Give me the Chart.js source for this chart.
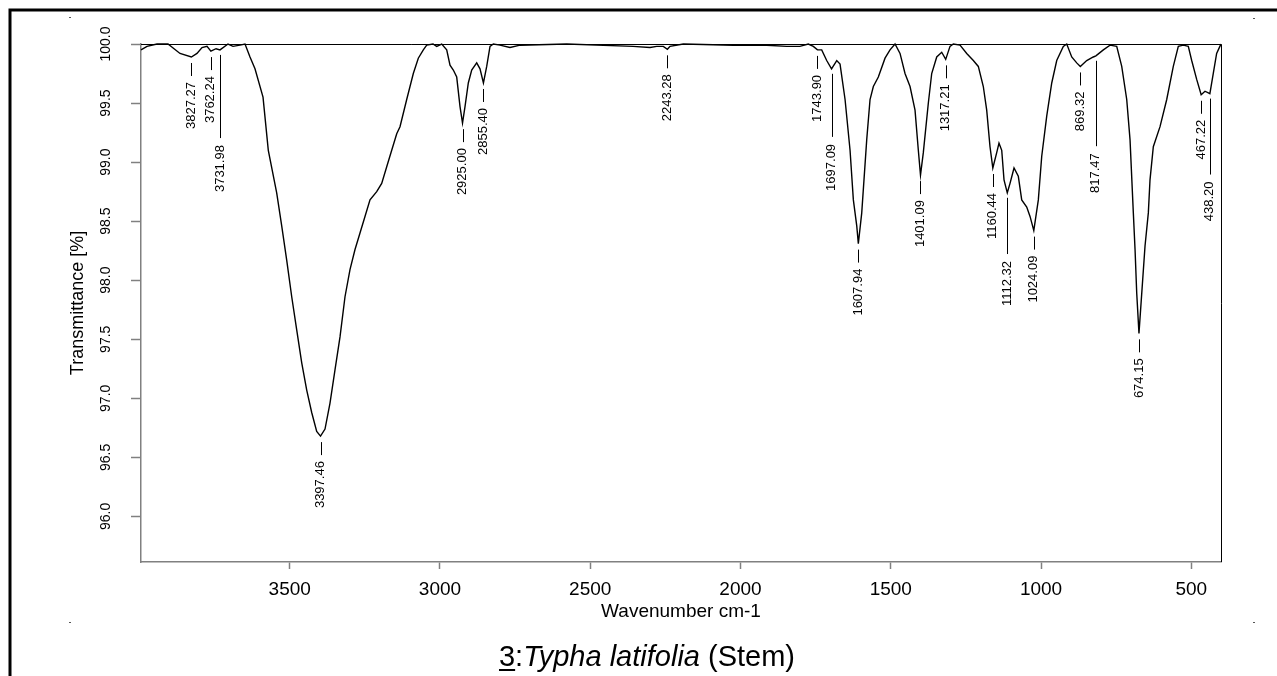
<!DOCTYPE html>
<html>
<head>
<meta charset="utf-8">
<script src="https://cdn.jsdelivr.net/npm/chart.js@4.4.1/dist/chart.umd.min.js"></script>
<style>
html,body{margin:0;padding:0;background:#fff;overflow:hidden}
canvas{display:block}
</style>
</head>
<body>
<canvas id="c" width="1277" height="676"></canvas>
<script>
// ---- data ----
const wavenumbers = [
  3994.8, 3974.8, 3941.6, 3905.0, 3865.0, 3827.27, 3808.5, 3791.8, 3775.2, 3762.24,
  3745.0, 3731.98, 3705.3, 3688.7, 3665.4, 3648.7, 3632.1, 3615.5, 3588.8, 3571.2,
  3543.3, 3526.6, 3510.0, 3493.3, 3476.7, 3460.0, 3443.4, 3426.8, 3410.2, 3397.46,
  3382.5, 3365.9, 3349.3, 3332.6, 3316.0, 3299.4, 3282.7, 3266.1, 3249.5, 3232.8,
  3210.5, 3193.9, 3177.2, 3160.6, 3143.9, 3133.0, 3110.7, 3088.7, 3072.1, 3055.4,
  3044.1, 3023.2, 3010.9, 2994.2, 2977.6, 2966.6, 2955.6, 2944.3, 2933.3, 2925.00,
  2916.7, 2905.7, 2894.4, 2877.8, 2866.8, 2855.40, 2844.5, 2833.5, 2822.5, 2800.3,
  2767.0, 2733.7, 2578.3, 2357.7, 2301.1, 2278.8, 2256.8, 2243.28, 2234.6, 2190.3,
  2025.0, 1912.8, 1846.3, 1802.5, 1774.4, 1757.7, 1743.90, 1729.8, 1713.2, 1697.09,
  1679.8, 1668.8, 1652.1, 1635.5, 1624.5, 1613.2, 1607.94, 1596.6, 1580.0, 1569.0,
  1558.0, 1541.4, 1519.1, 1502.5, 1485.8, 1469.2, 1452.6, 1435.9, 1419.3, 1408.3,
  1401.09, 1391.7, 1375.0, 1363.8, 1347.1, 1330.5, 1317.21, 1302.9, 1291.9, 1269.6,
  1247.3, 1225.3, 1208.7, 1192.1, 1180.8, 1169.8, 1160.44, 1147.5, 1139.9, 1130.8,
  1123.2, 1112.32, 1103.2, 1089.9, 1075.6, 1064.3, 1047.6, 1036.6, 1024.09, 1009.0,
  997.7, 981.1, 964.4, 947.8, 925.9, 914.5, 897.9, 881.3, 869.32, 848.0,
  826.1, 817.47, 792.7, 770.5, 748.2, 731.5, 714.9, 703.9, 692.9, 687.2,
  681.6, 674.15, 654.0, 643.0, 637.4, 626.4, 604.1, 581.8, 559.9, 543.2,
  526.6, 510.0, 498.7, 482.1, 467.22, 454.4, 438.20, 427.0, 415.7, 404.9,
  401.2
];
const transmittance = [
  99.95, 99.98, 100.0, 100.0, 99.92, 99.89, 99.92, 99.97, 99.98, 99.94,
  99.96, 99.95, 100.0, 99.98, 99.99, 100.0, 99.89, 99.79, 99.55, 99.10,
  98.74, 98.46, 98.17, 97.86, 97.58, 97.30, 97.07, 96.88, 96.72, 96.68,
  96.74, 96.96, 97.24, 97.52, 97.86, 98.09, 98.26, 98.40, 98.54, 98.68,
  98.75, 98.82, 98.96, 99.10, 99.24, 99.30, 99.53, 99.75, 99.88, 99.95,
  99.99, 100.0, 99.98, 100.0, 99.95, 99.82, 99.78, 99.72, 99.47, 99.33,
  99.47, 99.67, 99.78, 99.84, 99.79, 99.67, 99.81, 99.98, 100.0, 99.99,
  99.97, 99.99, 100.0, 99.98, 99.97, 99.98, 99.98, 99.955, 99.98, 100.0,
  99.99, 99.99, 99.98, 99.98, 100.0, 99.98, 99.95, 99.95, 99.86, 99.79,
  99.86, 99.83, 99.53, 99.10, 98.68, 98.46, 98.31, 98.57, 99.19, 99.53,
  99.64, 99.72, 99.88, 99.95, 100.0, 99.92, 99.75, 99.64, 99.44, 99.10,
  98.89, 99.08, 99.50, 99.75, 99.89, 99.93, 99.87, 99.98, 100.0, 99.99,
  99.92, 99.86, 99.81, 99.64, 99.44, 99.13, 98.95, 99.08, 99.16, 99.10,
  98.85, 98.74, 98.82, 98.95, 98.88, 98.68, 98.62, 98.54, 98.42, 98.68,
  99.05, 99.39, 99.67, 99.86, 99.98, 100.0, 99.89, 99.84, 99.81, 99.86,
  99.89, 99.90, 99.95, 99.99, 99.98, 99.81, 99.53, 99.19, 98.57, 98.26,
  97.89, 97.55, 98.29, 98.57, 98.85, 99.13, 99.30, 99.53, 99.81, 99.98,
  99.99, 99.98, 99.86, 99.70, 99.57, 99.60, 99.58, 99.75, 99.92, 99.98,
  100.0
];
const peakWavenumbers = [
  3827.27, 3762.24, 3731.98, 3397.46, 2925.00, 2855.40, 2243.28, 1743.90, 1697.09, 1607.94,
  1401.09, 1317.21, 1160.44, 1112.32, 1024.09, 869.32, 817.47, 674.15, 467.22, 438.20
];
const xTickValues = [3500, 3000, 2500, 2000, 1500, 1000, 500];
const yTickValues = [96.0, 96.5, 97.0, 97.5, 98.0, 98.5, 99.0, 99.5, 100.0];
const xLimits = [401.2, 3994.8];
const yLimits = [95.614, 100.0];
const xAxisTitle = 'Wavenumber cm-1';
const yAxisTitle = 'Transmittance [%]';
const titleNumber = '3';
const titleSpecies = 'Typha latifolia';
const titlePart = ' (Stem)';

// ---- drawing ----
const FAM = '"Liberation Sans", Arial, Helvetica, sans-serif';
Chart.defaults.font.family = FAM;

function valueAt(w) {
  for (let i = 0; i < wavenumbers.length - 1; i++) {
    const a = wavenumbers[i], b = wavenumbers[i + 1];
    if (w <= a && w >= b) {
      const f = (a - w) / (a - b);
      return transmittance[i] + f * (transmittance[i + 1] - transmittance[i]);
    }
  }
  return 100;
}

const peakLabelPlugin = {
  id: 'peakLabels',
  afterDatasetsDraw(chart) {
    const { ctx } = chart;
    const x = chart.scales.x, y = chart.scales.y;
    ctx.save();
    ctx.font = '13px ' + FAM;
    ctx.fillStyle = '#000';
    ctx.strokeStyle = '#000';
    ctx.lineWidth = 1;
    let prev = null;
    peakWavenumbers.forEach(w => {
      const t = valueAt(w);
      const px = x.getPixelForValue(w);
      const py = y.getPixelForValue(t);
      const label = w.toFixed(2);
      const len = ctx.measureText(label).width;
      let lineStart = py + 6, lineEnd = py + 19, textTop = py + 25;
      if (prev && Math.abs(px - prev.px) < 17) {
        textTop = Math.max(textTop, prev.bottom + 22);
        lineStart = py + 5;
        lineEnd = textTop - 7;
      }
      const sx = Math.round(px) + 0.5;
      ctx.beginPath();
      ctx.moveTo(sx, lineStart);
      ctx.lineTo(sx, lineEnd);
      ctx.stroke();
      ctx.save();
      ctx.translate(px, textTop + len);
      ctx.rotate(-Math.PI / 2);
      ctx.textAlign = 'left';
      ctx.textBaseline = 'middle';
      ctx.fillText(label, 0, 0);
      ctx.restore();
      prev = { px, bottom: textTop + len };
    });
    ctx.restore();
  }
};

const framePlugin = {
  id: 'frame',
  afterDraw(chart) {
    const { ctx, chartArea: a } = chart;
    ctx.save();
    // plot box top/right
    ctx.strokeStyle = '#000';
    ctx.lineWidth = 1;
    ctx.beginPath();
    ctx.moveTo(a.left, Math.round(a.top) + 0.5);
    ctx.lineTo(Math.round(a.right) + 0.5, Math.round(a.top) + 0.5);
    ctx.lineTo(Math.round(a.right) + 0.5, a.bottom);
    ctx.stroke();
    // outer frame
    ctx.lineWidth = 3;
    ctx.beginPath();
    ctx.moveTo(10, 676);
    ctx.lineTo(10, 10);
    ctx.lineTo(1277, 10);
    ctx.stroke();
    // corner marks
    ctx.fillStyle = '#555';
    [[69, 17], [1253, 18], [69, 622], [1253, 622]].forEach(p => ctx.fillRect(p[0], p[1], 2, 1));
    // title
    const reg = '29px ' + FAM, ita = 'italic 29px ' + FAM;
    ctx.font = reg;
    const w1 = ctx.measureText(titleNumber).width;
    const w2 = ctx.measureText(':').width;
    const w4 = ctx.measureText(titlePart).width;
    ctx.font = ita;
    const w3 = ctx.measureText(titleSpecies).width;
    const total = w1 + w2 + w3 + w4;
    let tx = 647 - total / 2;
    const ty = 666;
    ctx.fillStyle = '#000';
    ctx.textAlign = 'left';
    ctx.textBaseline = 'alphabetic';
    ctx.font = reg;
    ctx.fillText(titleNumber, tx, ty);
    ctx.fillRect(tx, ty + 3, w1, 2);
    tx += w1;
    ctx.fillText(':', tx, ty);
    tx += w2;
    ctx.font = ita;
    ctx.fillText(titleSpecies, tx, ty);
    tx += w3;
    ctx.font = reg;
    ctx.fillText(titlePart, tx, ty);
    ctx.restore();
  }
};

new Chart(document.getElementById('c'), {
  type: 'line',
  data: {
    datasets: [{
      data: wavenumbers.map((w, i) => ({ x: w, y: transmittance[i] })),
      borderColor: '#000',
      borderWidth: 1.4,
      pointRadius: 0,
      tension: 0,
      fill: false,
      clip: false
    }]
  },
  options: {
    responsive: false,
    animation: false,
    devicePixelRatio: 1,
    layout: { padding: { left: 0, right: 56, top: 44, bottom: 53 } },
    plugins: { legend: { display: false }, tooltip: { enabled: false }, title: { display: false } },
    scales: {
      x: {
        type: 'linear',
        reverse: true,
        min: xLimits[0],
        max: xLimits[1],
        afterBuildTicks: s => { s.ticks = xTickValues.map(v => ({ value: v })); },
        afterFit: s => { s.height = 61; },
        grid: { drawOnChartArea: false, drawTicks: true, tickLength: 7, tickColor: '#808080', tickWidth: 1.5 },
        border: { display: true, color: '#808080', width: 1.5 },
        ticks: { padding: 9, color: '#000', font: { size: 19 }, maxRotation: 0, autoSkip: false, callback: v => String(v) },
        title: { display: true, text: xAxisTitle, color: '#000', font: { size: 19 }, padding: { top: 0, bottom: 0 } }
      },
      y: {
        min: yLimits[0],
        max: yLimits[1],
        afterBuildTicks: s => { s.ticks = yTickValues.map(v => ({ value: v })); },
        afterFit: s => { s.width = 141; },
        grid: { drawOnChartArea: false, drawTicks: true, tickLength: 10, tickColor: '#808080', tickWidth: 1.5 },
        border: { display: true, color: '#808080', width: 1.5 },
        ticks: { padding: 7, color: '#000', font: { size: 14 }, minRotation: 90, maxRotation: 90, crossAlign: 'center', autoSkip: false, callback: v => Number(v).toFixed(1) },
        title: { display: true, text: yAxisTitle, color: '#000', font: { size: 18 }, padding: { top: 67, bottom: 0 } }
      }
    }
  },
  plugins: [peakLabelPlugin, framePlugin]
});
</script>
</body>
</html>
